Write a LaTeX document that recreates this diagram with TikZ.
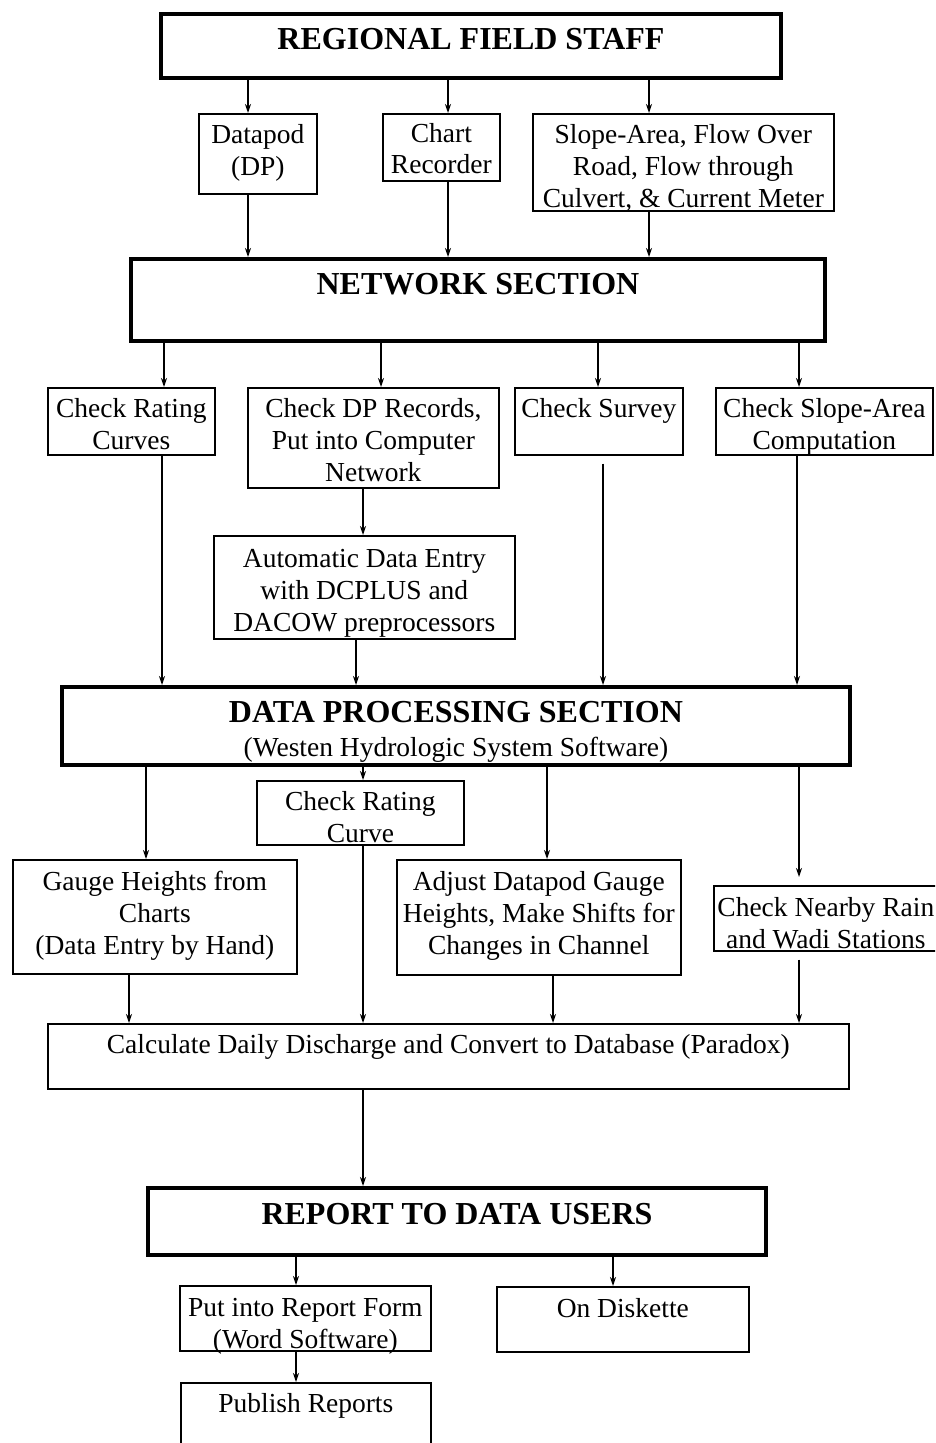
\documentclass[tikz,border=0pt]{standalone}
\usepackage{fontspec}
\setmainfont{Liberation Serif}
\usetikzlibrary{arrows.meta}
\tikzset{
  stdbox/.style={draw, line width=1.7pt, inner sep=0pt, anchor=north west},
  headbox/.style={draw, line width=4pt, inner sep=0pt, anchor=north west},
  conn/.style={line width=1.3pt, -{Stealth[length=9pt,width=6pt]}},
}
\newcommand\bodyfont{\fontsize{27.5}{32}\selectfont}
\newcommand\headfont{\fontsize{32}{36}\selectfont\bfseries}
% name, x1, y1, x2, y2, style, first-baseline offset, font, text
\newcommand\bx[9]{%
  \pgfmathsetmacro\bxw{#4-#2}\pgfmathsetmacro\bxh{#5-#3}%
  \node[#6] (#1) at (#2,#3) {\parbox[c][\bxh pt][t]{\bxw pt}{#8\centering\rule{0pt}{#7pt}#9}};}
\begin{document}
\begin{tikzpicture}[x=1pt,y=-1pt]
\useasboundingbox (0,0) rectangle (935,1443);
\fill[white] (0,0) rectangle (935,1443);
\begin{scope}
\clip (0,0) rectangle (935,1443);
\bx{rfs}{159}{12}{779}{76}{headbox}{35}{\headfont}{REGIONAL FIELD STAFF}
\bx{dp}{198}{113}{316}{193}{stdbox}{30}{\bodyfont}{Datapod\\(DP)}
\bx{chart}{382}{113}{499}{180}{stdbox}{29}{\fontsize{27.5}{31}\selectfont}{Chart\\Recorder}
\bx{slope}{532}{113}{833}{210}{stdbox}{30}{\bodyfont}{Slope-Area, Flow Over\\Road, Flow through\\Culvert, \& Current Meter}
\bx{net}{129}{257}{823}{339}{headbox}{35}{\headfont}{NETWORK SECTION}
\bx{crc}{47}{387}{214}{454}{stdbox}{30}{\bodyfont}{Check Rating\\Curves}
\bx{cdp}{247}{387}{498}{487}{stdbox}{30}{\bodyfont}{Check DP Records,\\Put into Computer\\Network}
\bx{cs}{514}{387}{682}{454}{stdbox}{30}{\bodyfont}{Check Survey}
\bx{csa}{715}{387}{932}{454}{stdbox}{30}{\bodyfont}{Check Slope-Area\\Computation}
\bx{auto}{213}{535}{514}{638}{stdbox}{32}{\bodyfont}{Automatic Data Entry\\with DCPLUS and\\DACOW preprocessors}
\bx{dps}{60}{685}{848}{763}{headbox}{35}{\headfont}{DATA PROCESSING SECTION\\\mdseries\fontsize{27.5}{34}\selectfont(Westen Hydrologic System Software)}
\bx{crv}{256}{780}{463}{844}{stdbox}{29.5}{\bodyfont}{Check Rating\\Curve}
\bx{gh}{12}{859}{296}{973}{stdbox}{30.5}{\bodyfont}{Gauge Heights from\\Charts\\(Data Entry by Hand)}
\bx{adj}{396}{859}{680}{974}{stdbox}{30.5}{\bodyfont}{Adjust Datapod Gauge\\Heights, Make Shifts for\\Changes in Channel}
\bx{rain}{713}{885}{937}{950}{stdbox}{31}{\bodyfont}{Check Nearby Rain\\and Wadi Stations}
\bx{calc}{47}{1023}{848}{1088}{stdbox}{30}{\bodyfont}{Calculate Daily Discharge and Convert to Database (Paradox)}
\bx{rep}{146}{1186}{764}{1253}{headbox}{36}{\headfont}{REPORT TO DATA USERS}
\bx{put}{179}{1285}{430}{1350}{stdbox}{31}{\bodyfont}{Put into Report Form\\(Word Software)}
\bx{disk}{496}{1286}{748}{1351}{stdbox}{30.5}{\bodyfont}{On Diskette}
\bx{pub}{180}{1382}{430}{1470}{stdbox}{30}{\bodyfont}{Publish Reports}
\end{scope}
% connectors
\draw[conn] (rfs.south -| 248,0) -- (dp.north -| 248,0);
\draw[conn] (rfs.south -| 448,0) -- (chart.north -| 448,0);
\draw[conn] (rfs.south -| 649,0) -- (slope.north -| 649,0);
\draw[conn] (dp.south -| 248,0) -- (net.north -| 248,0);
\draw[conn] (chart.south -| 448,0) -- (net.north -| 448,0);
\draw[conn] (slope.south -| 649,0) -- (net.north -| 649,0);
\draw[conn] (net.south -| 164,0) -- (crc.north -| 164,0);
\draw[conn] (net.south -| 381,0) -- (cdp.north -| 381,0);
\draw[conn] (net.south -| 598,0) -- (cs.north -| 598,0);
\draw[conn] (net.south -| 799,0) -- (csa.north -| 799,0);
\draw[conn] (cdp.south -| 363,0) -- (auto.north -| 363,0);
\draw[conn] (crc.south -| 162,0) -- (dps.north -| 162,0);
\draw[conn] (auto.south -| 356,0) -- (dps.north -| 356,0);
\draw[conn, shorten <=8pt] (cs.south -| 603,0) -- (dps.north -| 603,0);
\draw[conn] (csa.south -| 797,0) -- (dps.north -| 797,0);
\draw[conn] (dps.south -| 146,0) -- (gh.north -| 146,0);
\draw[conn] (dps.south -| 363,0) -- (crv.north -| 363,0);
\draw[conn] (dps.south -| 547,0) -- (adj.north -| 547,0);
\draw[conn, shorten >=8pt] (dps.south -| 799,0) -- (rain.north -| 799,0);
\draw[conn] (gh.south -| 129,0) -- (calc.north -| 129,0);
\draw[conn] (crv.south -| 363,0) -- (calc.north -| 363,0);
\draw[conn] (adj.south -| 553,0) -- (calc.north -| 553,0);
\draw[conn, shorten <=8pt] (rain.south -| 799,0) -- (calc.north -| 799,0);
\draw[conn] (calc.south -| 363,0) -- (rep.north -| 363,0);
\draw[conn] (rep.south -| 296,0) -- (put.north -| 296,0);
\draw[conn] (rep.south -| 613,0) -- (disk.north -| 613,0);
\draw[conn] (put.south -| 296,0) -- (pub.north -| 296,0);
\end{tikzpicture}
\end{document}
